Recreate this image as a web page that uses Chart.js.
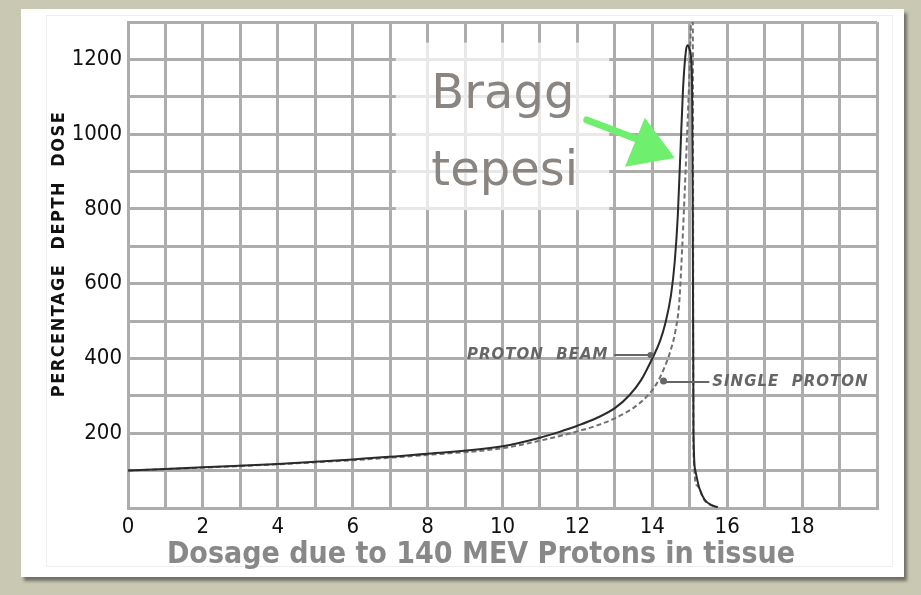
<!DOCTYPE html>
<html>
<head>
<meta charset="utf-8">
<script src="https://cdn.jsdelivr.net/npm/chart.js@4"></script>
<style>
  html, body { margin: 0; padding: 0; }
  body { width: 921px; height: 595px; background: #c9c8b3; position: relative; overflow: hidden; }
  #paper { position: absolute; left: 21px; top: 9px; width: 883px; height: 568px; background: #fff;
           box-shadow: 3px 4px 3px #707066; }
  #inner { position: absolute; left: 46px; top: 15px; width: 845px; height: 550px; border: 1px solid #eeeeea; }
  #wrap { position: absolute; left: 0; top: 0; width: 921px; height: 595px; }
</style>
</head>
<body>
<div id="paper"></div>
<div id="inner"></div>
<div id="wrap"><canvas id="stage"></canvas></div>
<script>
// tick labels
const xTicks = [0, 2, 4, 6, 8, 10, 12, 14, 16, 18];
const yTicks = [200, 400, 600, 800, 1000, 1200];

// PROTON BEAM (solid)
const beamDepth = [0, 2, 4, 6, 8, 10, 11, 11.5, 12, 12.5, 13, 13.4, 13.7, 14.0, 14.2, 14.35, 14.5, 14.6, 14.68, 14.75, 14.82, 14.9, 14.95, 15.0, 15.06, 15.08, 15.1, 15.15, 15.25, 15.4, 15.6, 15.75];
const beamDose  = [100, 109, 118, 130, 145, 165, 188, 203, 220, 240, 267, 303, 342, 400, 445, 495, 570, 660, 780, 950, 1120, 1225, 1238, 1225, 1150, 800, 200, 100, 55, 22, 7, 2];

// SINGLE PROTON (dashed)
const singleDepth = [0, 2, 4, 6, 8, 10, 11, 12, 12.5, 13, 13.5, 13.85, 14.1, 14.3, 14.5, 14.62, 14.72, 14.8, 14.88, 14.95, 15.0, 15.04, 15.08, 15.1, 15.2, 15.4, 15.7];
const singleDose  = [100, 108, 117, 128, 142, 160, 180, 205, 220, 240, 268, 298, 330, 370, 425, 475, 550, 700, 880, 1050, 1185, 1310, 1310, 150, 60, 20, 2];

const calloutBeam = 'PROTON  BEAM';
const calloutSingle = 'SINGLE  PROTON';
const braggText = ['Bragg', 'tepesi'];

const tickFont = { family: '"Liberation Sans Narrow", "DejaVu Sans Condensed", sans-serif', size: 22 };

// 注釈・タイトルの描画
const annotate = {
  id: 'annotate',
  afterDatasetsDraw(chart) {
    const ctx = chart.ctx;
    const sx = chart.scales.x, sy = chart.scales.y;
    const px = v => sx.getPixelForValue(v);
    const py = v => sy.getPixelForValue(v);
    ctx.save();

    // Bragg box
    ctx.fillStyle = 'rgba(255,255,255,0.72)';
    ctx.fillRect(px(7.15), py(1245), px(12.85) - px(7.15), py(797) - py(1245));
    ctx.fillStyle = '#8a8580';
    ctx.font = '48px "DejaVu Sans", sans-serif';
    ctx.textBaseline = 'alphabetic';
    ctx.fillText(braggText[0], px(8.1), py(1070));
    ctx.fillText(braggText[1], px(8.1), py(864));

    // green arrow
    ctx.strokeStyle = '#6ef06e';
    ctx.fillStyle = '#6ef06e';
    ctx.lineWidth = 7;
    ctx.lineCap = 'round';
    ctx.beginPath();
    ctx.moveTo(px(12.25), py(1038));
    ctx.lineTo(px(13.9), py(975));
    ctx.stroke();
    ctx.beginPath();
    ctx.moveTo(px(14.6), py(936));
    ctx.lineTo(px(13.8), py(1044));
    ctx.lineTo(px(13.27), py(913));
    ctx.closePath();
    ctx.fill();

    // callouts
    ctx.fillStyle = '#666666';
    ctx.strokeStyle = '#666666';
    ctx.lineWidth = 2;
    ctx.font = 'italic bold 15px "DejaVu Sans", sans-serif';
    ctx.letterSpacing = '1px';
    ctx.textBaseline = 'middle';
    ctx.textAlign = 'left';
    ctx.fillText(calloutBeam, px(9.05), py(409));
    ctx.beginPath();
    ctx.moveTo(px(13.0), py(409));
    ctx.lineTo(px(13.9), py(409));
    ctx.stroke();
    ctx.beginPath();
    ctx.arc(px(13.95), py(409), 3, 0, Math.PI * 2);
    ctx.fill();

    ctx.fillText(calloutSingle, px(15.6), py(337));
    ctx.beginPath();
    ctx.moveTo(px(14.3), py(337));
    ctx.lineTo(px(15.5), py(337));
    ctx.stroke();
    ctx.beginPath();
    ctx.arc(px(14.3), py(340), 3.5, 0, Math.PI * 2);
    ctx.fill();
    ctx.letterSpacing = '0px';

    // axis titles
    ctx.fillStyle = '#888888';
    ctx.font = 'bold 30px "Liberation Sans Narrow", "DejaVu Sans Condensed", sans-serif';
    ctx.textAlign = 'center';
    ctx.textBaseline = 'alphabetic';
    ctx.fillText('Dosage due to 140 MEV Protons in tissue', 481, 563);

    ctx.fillStyle = '#111';
    ctx.font = 'bold 18px "DejaVu Sans Condensed", sans-serif';
    ctx.letterSpacing = '1.5px';
    ctx.translate(59, 254);
    ctx.rotate(-Math.PI / 2);
    ctx.textBaseline = 'middle';
    ctx.fillText('PERCENTAGE  DEPTH  DOSE', 0, 0);
    ctx.restore();
  }
};

new Chart(document.getElementById('stage'), {
  type: 'scatter',
  data: {
    datasets: [
      {
        label: 'PROTON BEAM',
        data: beamDepth.map((d, i) => ({ x: d, y: beamDose[i] })),
        showLine: true,
        borderColor: '#2a2a2a',
        borderWidth: 2,
        pointRadius: 0,
        cubicInterpolationMode: 'monotone'
      },
      {
        label: 'SINGLE PROTON',
        data: singleDepth.map((d, i) => ({ x: d, y: singleDose[i] })),
        showLine: true,
        borderColor: '#707070',
        borderWidth: 2,
        borderDash: [5, 3],
        pointRadius: 0,
        cubicInterpolationMode: 'monotone'
      }
    ]
  },
  options: {
    responsive: true,
    maintainAspectRatio: false,
    animation: false,
    layout: { padding: { left: 0, top: 22, right: 44, bottom: 0 } },
    plugins: { legend: { display: false }, tooltip: { enabled: false } },
    scales: {
      x: {
        type: 'linear',
        min: 0,
        max: 20,
        grid: { color: '#adadad', lineWidth: 3, drawTicks: false },
        border: { color: '#adadad', width: 3 },
        ticks: {
          stepSize: 1,
          autoSkip: false,
          maxRotation: 0,
          padding: 6,
          color: '#111',
          font: tickFont,
          callback: v => xTicks.includes(v) ? String(v) : ''
        },
        afterFit: s => { s.height = 87; s.paddingLeft = 0; s.paddingRight = 0; }
      },
      y: {
        min: 0,
        max: 1300,
        grid: { color: '#adadad', lineWidth: 3, drawTicks: false },
        border: { color: '#adadad', width: 3 },
        ticks: {
          stepSize: 100,
          autoSkip: false,
          padding: 6,
          color: '#111',
          font: tickFont,
          callback: v => yTicks.includes(v) ? String(v) : ''
        },
        afterFit: s => { s.width = 128; s.paddingTop = 0; s.paddingBottom = 0; }
      }
    }
  },
  plugins: [annotate]
});
</script>
</body>
</html>
